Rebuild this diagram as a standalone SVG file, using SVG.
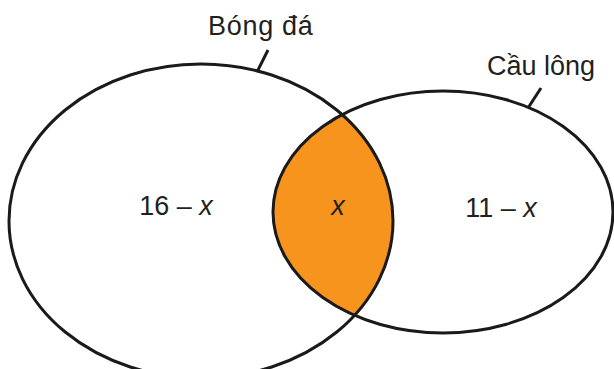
<svg xmlns="http://www.w3.org/2000/svg" width="614" height="369" viewBox="0 0 614 369">
  <style>
    .outline { fill: none; stroke: #1a1a1a; stroke-width: 3; }
    .tick { stroke: #1a1a1a; stroke-width: 3; }
    .lbl { font-family: "Liberation Sans", Arial, sans-serif; font-size: 27px; fill: #231f20; }
    .val { font-family: "Liberation Sans", Arial, sans-serif; font-size: 27px; fill: #231f20; text-anchor: middle; }
    .it { font-style: italic; }
  </style>
  <defs>
    <clipPath id="clipLeft">
      <ellipse cx="201" cy="221" rx="192" ry="157"/>
    </clipPath>
  </defs>
  <g id="intersection">
    <ellipse cx="443" cy="212" rx="170" ry="121" fill="#f7941d" clip-path="url(#clipLeft)"/>
  </g>
  <g id="bong-da">
    <ellipse class="outline" cx="201" cy="221" rx="192" ry="157"/>
    <text class="lbl" x="208" y="35" letter-spacing="0.7">Bóng đá</text>
    <text class="val" x="176" y="215">16 – <tspan class="it">x</tspan></text>
  </g>
  <g id="cau-long">
    <ellipse class="outline" cx="443" cy="212" rx="170" ry="121"/>
    <text class="lbl" x="487" y="75">Cầu lông</text>
    <text class="val" x="501" y="217">11 – <tspan class="it">x</tspan></text>
  </g>
  <g id="both">
    <text class="val it" x="338" y="215">x</text>
  </g>
  <g id="connectors">
    <line class="tick" x1="257" y1="72" x2="268" y2="50"/>
    <line class="tick" x1="528" y1="108" x2="541" y2="88"/>
  </g>
</svg>
